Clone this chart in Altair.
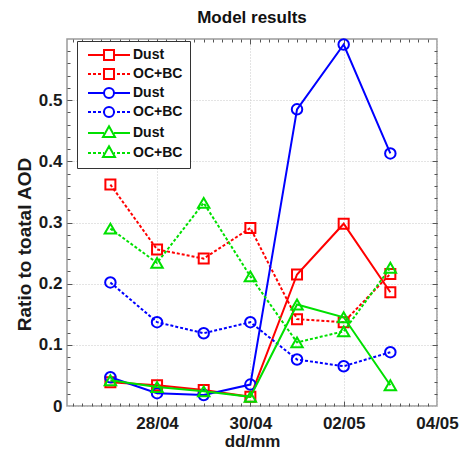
import altair as alt
import pandas as pd

# ---------------- data ----------------
dates = ["2008-04-27", "2008-04-28", "2008-04-29", "2008-04-30",
         "2008-05-01", "2008-05-02", "2008-05-03"]
series_names = ["Dust a", "OC+BC a", "Dust b", "OC+BC b", "Dust c", "OC+BC c"]
red_dust = [0.039, 0.034, 0.026, 0.015, 0.215, 0.298, 0.186]
red_ocbc = [0.362, 0.256, 0.241, 0.291, 0.142, 0.137, 0.216]
blue_dust = [0.047, 0.021, 0.018, 0.035, 0.485, 0.591, 0.413]
blue_ocbc = [0.202, 0.137, 0.119, 0.137, 0.076, 0.065, 0.088]
green_dust = [0.042, 0.031, 0.024, 0.015, 0.166, 0.145, 0.034]
green_ocbc = [0.290, 0.234, 0.332, 0.212, 0.104, 0.122, 0.226]
x_tick_dates = ["2008-04-28", "2008-04-30", "2008-05-02", "2008-05-04"]
y_tick_values = [0, 0.1, 0.2, 0.3, 0.4, 0.5]

values = [red_dust, red_ocbc, blue_dust, blue_ocbc, green_dust, green_ocbc]
rows = []
for name, vals in zip(series_names, values):
    for d, v in zip(dates, vals):
        rows.append({"date": d, "value": v, "series": name})
df = pd.DataFrame(rows)

# ---------------- styling ----------------
colors = ["#ff0000", "#ff0000", "#0000ff", "#0000ff", "#00e000", "#00e000"]
shapes = ["square", "square", "circle", "circle", "triangle-up", "triangle-up"]
sizes = [100, 100, 110, 110, 130, 130]
dashed = [False, True, False, True, False, True]
FONT = "Liberation Sans"
W, H = 370, 367


def ms(s):
    return int(pd.Timestamp(s, tz="UTC").value // 10**6)


DAY = 86400000
x_start = ms("2008-04-26") + int(0.07 * DAY)
x_end = ms("2008-05-04")
xscale = alt.Scale(type="utc", domain=[x_start, x_end], nice=False)
yscale = alt.Scale(domain=[0, 0.6], nice=False, zero=True)

major_x = [ms(d) for d in x_tick_dates[:-1]]
minor_x = [ms("2008-04-28") + k * DAY // 5 for k in range(-9, 31)]
minor_x = [v for v in minor_x if x_start < v < x_end]
major_y = [0.1, 0.2, 0.3, 0.4, 0.5]
minor_y = [round(0.02 * k, 2) for k in range(1, 30)]


# legend symbol paths (line + marker), units of 5px
def seg_line(dotted):
    if not dotted:
        return "M-4.2,0H-1M1,0H4.2"
    parts = []
    a = -4.2
    while a < -1:
        b = min(a + 0.6, -1)
        parts.append(f"M{a:.2f},0H{b:.2f}")
        parts.append(f"M{-b:.2f},0H{-a:.2f}")
        a += 1.0
    return "".join(parts)


marker_paths = {
    "square": "M-1,-1H1V1H-1Z",
    "circle": "M-1,0A1,1 0 1,0 1,0A1,1 0 1,0 -1,0Z",
    "triangle-up": "M0,-1.35L1.2,0.8L-1.2,0.8Z",
}
legend_paths = [seg_line(dz) + marker_paths[sh] for sh, dz in zip(shapes, dashed)]

legend = alt.Legend(
    orient="none", legendX=10, legendY=2, title=None,
    padding=7, strokeColor="#333333", fillColor="white",
    labelFont=FONT, labelFontSize=14, labelFontWeight="bold", labelColor="#111111",
    symbolSize=100, symbolStrokeWidth=2, symbolOffset=18, labelOffset=17,
    rowPadding=1, symbolOpacity=1,
    labelExpr="split(datum.label, ' ')[0]",
)

base = alt.Chart(df)

# main layer: axes with labels/grid + legend (invisible points)
main_layer = base.mark_point(opacity=0, filled=False, size=100, strokeWidth=2).encode(
    x=alt.X("date:T", scale=xscale, title="dd/mm",
            axis=alt.Axis(values=[ms(d) for d in x_tick_dates],
                          labelExpr="utcFormat(datum.value, '%d/%m')",
                          ticks=False, domain=False, grid=True, labelFlush=False,
                          gridColor="#c8c8c8", gridDash=[1, 2],
                          labelFont=FONT, labelFontSize=17, labelFontWeight="bold",
                          labelColor="#1a1a1a", labelPadding=9,
                          titleFont=FONT, titleFontSize=17, titleFontWeight="bold",
                          titleColor="#1a1a1a", titlePadding=2)),
    y=alt.Y("value:Q", scale=yscale, title="Ratio to toatal AOD",
            axis=alt.Axis(values=y_tick_values, format="~g",
                          ticks=False, domain=False, grid=True,
                          gridColor="#c8c8c8", gridDash=[1, 2],
                          labelFont=FONT, labelFontSize=17, labelFontWeight="bold",
                          labelColor="#1a1a1a", labelPadding=5,
                          titleFont=FONT, titleFontSize=19, titleFontWeight="bold",
                          titleColor="#1a1a1a", titleAngle=270,
                          titleX=-43, titleY=205, titleAlign="center",
                          titleBaseline="middle")),
    color=alt.Color("series:N", scale=alt.Scale(domain=series_names, range=colors),
                    legend=legend),
    shape=alt.Shape("series:N", scale=alt.Scale(domain=series_names, range=legend_paths),
                    legend=legend),
)


def tick_layer(xorient, xvals, yorient, yvals, size):
    return base.mark_point(opacity=0).encode(
        x=alt.X("date:T", scale=xscale, title=None,
                axis=alt.Axis(orient=xorient, offset=-H, values=xvals, labels=False,
                              domain=False, grid=False, tickSize=size,
                              tickColor="#555555", tickWidth=1)),
        y=alt.Y("value:Q", scale=yscale, title=None,
                axis=alt.Axis(orient=yorient, offset=-W, values=yvals, labels=False,
                              domain=False, grid=False, tickSize=size,
                              tickColor="#555555", tickWidth=1)),
    )


ticks = [
    tick_layer("top", minor_x, "right", minor_y, 3),
    tick_layer("bottom", minor_x, "left", minor_y, 3),
    tick_layer("top", major_x, "right", major_y, 5),
    tick_layer("bottom", major_x, "left", major_y, 5),
]

series_layers = []
for name, col, sh, sz, dz in zip(series_names, colors, shapes, sizes, dashed):
    sub = base.transform_filter(alt.datum.series == name)
    enc = dict(
        x=alt.X("date:T", scale=xscale, axis=None),
        y=alt.Y("value:Q", scale=yscale, axis=None),
    )
    line_kw = dict(color=col, strokeWidth=2)
    if dz:
        line_kw["strokeDash"] = [3, 2]
    series_layers.append(sub.mark_line(**line_kw).encode(**enc))
    series_layers.append(
        sub.mark_point(shape=sh, filled=False, size=sz, strokeWidth=2,
                       color=col, opacity=1).encode(**enc))

chart = alt.layer(main_layer, *ticks, *series_layers).resolve_axis(
    x="independent", y="independent"
).properties(
    width=W, height=H,
    background="white",
    title=alt.TitleParams("Model results", font=FONT, fontSize=17, fontWeight="bold",
                          color="#111111", anchor="middle", frame="group",
                          baseline="alphabetic", offset=15, dy=20),
    autosize=alt.AutoSizeParams(type="none"),
    padding={"left": 67, "top": 39, "right": 25, "bottom": 46},
).configure_view(
    stroke="#9a9a9a", strokeWidth=1.5
)

chart.save("out.html", embed_options={"renderer": "svg", "actions": False})
